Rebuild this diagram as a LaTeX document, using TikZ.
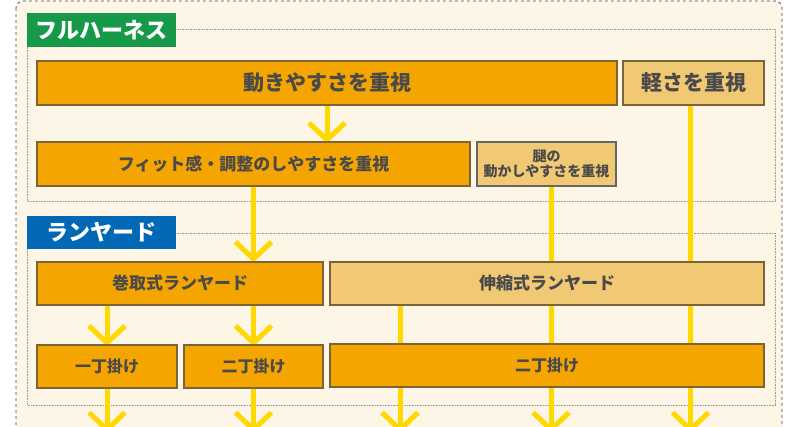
\documentclass[tikz,border=0pt]{standalone}
\usepackage{fontspec}
\newfontfamily\jp{Noto Sans CJK JP}
\usetikzlibrary{arrows.meta}
\definecolor{cream}{HTML}{FDF5E5}
\definecolor{orng}{HTML}{F5A500}
\definecolor{lite}{HTML}{F1C874}
\definecolor{edge}{HTML}{7A6438}
\definecolor{ylw}{HTML}{FFD800}
\definecolor{txt}{HTML}{4A4A4A}
\definecolor{grn}{HTML}{17994A}
\definecolor{blu}{HTML}{0068B5}
\pgfdeclarelayer{back}
\pgfdeclarelayer{lines}
\pgfsetlayers{back,lines,main}
\tikzset{
  box/.style={draw=edge, line width=1.3pt, inner sep=0pt, text=txt, font=\jp\bfseries\fontsize{16}{18}\selectfont, align=center},
  dark/.style={box, fill=orng},
  light/.style={box, fill=lite},
  mid/.style={font=\jp\bfseries\fontsize{17}{19}\selectfont},
  tag/.style={inner sep=0pt, text=white, font=\jp\bfseries\fontsize{22}{24}\selectfont, minimum width=149pt, minimum height=34pt},
  group/.style={draw=gray!80, densely dotted, line width=0.6pt},
  flow/.style={draw=ylw, line width=5pt},
  arr/.style={flow, -{Straight Barb[length=17pt, width=36pt]}},
}
\begin{document}
\begin{tikzpicture}[x=1pt, y=-1pt]
\useasboundingbox (0,0) rectangle (800,426);
\clip (0,0) rectangle (800,426);
\begin{pgfonlayer}{back}
  \fill[white] (0,0) rectangle (800,426);
  \draw[fill=cream, draw=black!70, dashed, line width=0.8pt, rounded corners=7pt] (16,1) rectangle (782,460);
  \draw[group] (27,29) rectangle (775,201);
  \draw[group] (27,233) rectangle (775,405);
\end{pgfonlayer}

\node[tag, fill=grn] (tagh) at (101.5,30) {フルハーネス};
\node[tag, fill=blu, minimum height=33pt] (tagl) at (101.5,232.5) {ランヤード};

\node[dark, minimum width=580pt, minimum height=44pt, font=\jp\bfseries\fontsize{21}{24}\selectfont] (ugoki) at (327,83) {動きやすさを重視};
\node[light, minimum width=141pt, minimum height=44pt, font=\jp\bfseries\fontsize{21}{24}\selectfont] (karusa) at (693.5,83) {軽さを重視};
\node[dark, mid, minimum width=433pt, minimum height=44pt] (fit) at (253.5,164) {フィット感・調整のしやすさを重視};
\node[light, draw=black!60, line width=2pt, minimum width=139pt, minimum height=44pt, font=\jp\bfseries\fontsize{14}{15}\selectfont] (momo) at (546.5,164) {腿の\\動かしやすさを重視};

\node[dark, mid, minimum width=286pt, minimum height=43pt] (maki) at (180,283.5) {巻取式ランヤード};
\node[light, mid, minimum width=434pt, minimum height=43pt] (shin) at (547,283.5) {伸縮式ランヤード};
\node[dark, minimum width=140pt, minimum height=43pt] (ichi) at (107,366.5) {一丁掛け};
\node[dark, minimum width=139pt, minimum height=43pt] (nia) at (253.5,366.5) {二丁掛け};
\node[dark, minimum width=434pt, minimum height=43pt] (nib) at (547,365.5) {二丁掛け};

\coordinate (b1) at (107,433);
\coordinate (b2) at (253.5,433);
\coordinate (b3) at (400,433);
\coordinate (b4) at (551,433);
\coordinate (b5) at (690.5,433);

\begin{pgfonlayer}{lines}
  \draw[arr] ([yshift=2pt]ugoki.south) -- ([yshift=-2pt]ugoki.south |- fit.north);
  \draw[arr] ([yshift=1pt]fit.south) -- ([yshift=-1pt]fit.south |- maki.north);
  \draw[arr] ([yshift=2pt]maki.south -| ichi.north) -- ([yshift=-2pt]ichi.north);
  \draw[arr] ([yshift=2pt]maki.south -| nia.north) -- ([yshift=-2pt]nia.north);
  \draw[arr] ([yshift=2pt]ichi.south) -- (b1);
  \draw[arr] ([yshift=2pt]nia.south) -- (b2);
  \draw[arr] (shin.south -| b3) -- (b3);
  \draw[arr] (momo.south -| b4) -- (b4);
  \draw[arr] (karusa.south -| b5) -- (b5);
\end{pgfonlayer}
\end{tikzpicture}
\end{document}
